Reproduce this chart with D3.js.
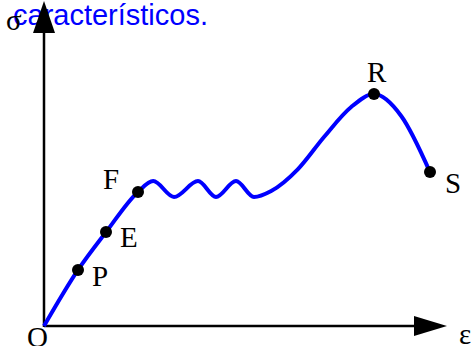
<!DOCTYPE html>
<html>
<head>
<meta charset="utf-8">
<script src="https://cdn.jsdelivr.net/npm/d3@7"></script>
<style>
  html, body { margin: 0; padding: 0; background: #fff; }
  svg { display: block; }
</style>
</head>
<body>
<svg id="chart" width="475" height="346"></svg>
<script>
// Stress–strain curve (ε, σ) in arbitrary units
const strain = [0, 8.5, 15.5, 23.5, 27.3, 32.5, 38.5, 43, 48, 52.5, 56.8, 63.5, 70, 76.8, 82.5, 89.3, 96.5];
const stress = [0, 18.7, 31.3, 44.7, 48.3, 43, 48.3, 43, 48.3, 43, 45, 52.3, 63, 73, 77.3, 70, 51.3];

// Characteristic points: label and index into the curve
const pointLabels = ["P", "E", "F", "R", "S"];
const pointIndex  = [1, 2, 3, 14, 16];

const axisLabels = { x: "ε", y: "σ", origin: "O" };
const heading = "característicos.";

const svg = d3.select("#chart");

const x = d3.scaleLinear().domain([0, 100]).range([44, 444]);
const y = d3.scaleLinear().domain([0, 100]).range([326, 26]);

const data = strain.map((e, i) => ({ e, s: stress[i] }));

// Heading text (partly hidden under the axis)
svg.append("text")
  .attr("x", 13).attr("y", 25)
  .attr("font-family", "'Liberation Sans', Arial, sans-serif")
  .attr("font-size", 29)
  .attr("fill", "#0000ff")
  .text(heading);

const x0 = x(0), y0 = y(0);

// Axes with arrowheads
svg.append("line")
  .attr("x1", x0).attr("y1", y0 + 1).attr("x2", x0).attr("y2", 20)
  .attr("stroke", "#000").attr("stroke-width", 2.5);
svg.append("line")
  .attr("x1", x0).attr("y1", y0).attr("x2", 420).attr("y2", y0)
  .attr("stroke", "#000").attr("stroke-width", 2.5);

svg.append("path")
  .attr("d", `M${x0},1 L${x0 - 11},33 L${x0 + 11},33 Z`)
  .attr("fill", "#000");
svg.append("path")
  .attr("d", `M447,${y0} L414,${y0 - 10} L414,${y0 + 10} Z`)
  .attr("fill", "#000");

// Curve
const line = d3.line()
  .x(d => x(d.e))
  .y(d => y(d.s))
  .curve(d3.curveMonotoneX);

svg.append("path")
  .datum(data)
  .attr("d", line)
  .attr("fill", "none")
  .attr("stroke", "#0000ff")
  .attr("stroke-width", 4)
  .attr("stroke-linejoin", "round");

// Marked points
const marks = pointIndex.map((idx, k) => ({ label: pointLabels[k], ...data[idx] }));

svg.selectAll("circle.pt")
  .data(marks)
  .enter().append("circle")
  .attr("class", "pt")
  .attr("cx", d => x(d.e))
  .attr("cy", d => y(d.s))
  .attr("r", 6)
  .attr("fill", "#000");

const labelOffset = {
  P: [14, 16], E: [14, 15], F: [-35, -3], R: [-7, -12], S: [15, 21]
};

const serif = "'Liberation Serif', 'Times New Roman', serif";

svg.selectAll("text.pt")
  .data(marks)
  .enter().append("text")
  .attr("class", "pt")
  .attr("x", d => x(d.e) + labelOffset[d.label][0])
  .attr("y", d => y(d.s) + labelOffset[d.label][1])
  .attr("font-family", serif)
  .attr("font-size", 29)
  .attr("fill", "#000")
  .text(d => d.label);

svg.append("text")
  .attr("x", x0 - 17).attr("y", y0 + 21)
  .attr("font-family", serif).attr("font-size", 29)
  .text(axisLabels.origin);

svg.append("text")
  .attr("x", 6).attr("y", 30)
  .attr("font-family", serif).attr("font-size", 29)
  .text(axisLabels.y);

svg.append("text")
  .attr("x", 459).attr("y", 344)
  .attr("font-family", serif).attr("font-size", 29)
  .text(axisLabels.x);
</script>
</body>
</html>
